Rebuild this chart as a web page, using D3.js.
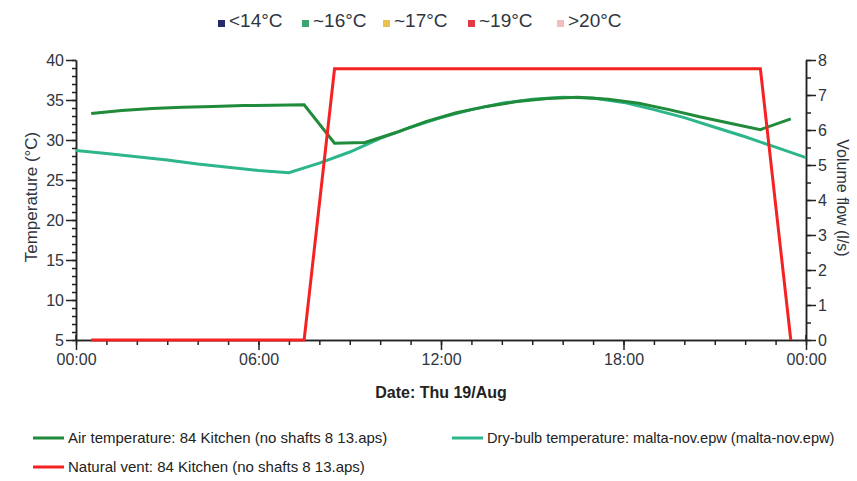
<!DOCTYPE html>
<html>
<head>
<meta charset="utf-8">
<script src="https://cdn.jsdelivr.net/npm/d3@7"></script>
<style>
body { margin: 0; background: #fff; }
svg { font-family: "Liberation Sans", Arial, sans-serif; }
</style>
</head>
<body>
<svg></svg>
<script>
// legend categories at the top
var bandLabels = ["<14°C", "~16°C", "~17°C", "~19°C", ">20°C"]
var bandColors = ["#262a6e", "#3aa56c", "#e8c24a", "#e23a44", "#f5bcbc"]

// hours of the day
var airHours = [0.5,1.5,2.5,3.5,4.5,5.5,6.5,7.5,8.5,9.5,10.5,11.5,12.5,13.5,14.5,15.5,16.5,17.5,18.5,19.5,20.5,21.5,22.5,23.5]
var airTemp = [33.3,33.7,33.95,34.1,34.2,34.3,34.35,34.4,29.6,29.7,30.9,32.3,33.4,34.2,34.8,35.2,35.35,35.1,34.6,33.8,32.9,32.1,31.3,32.65]
var ventFlow = [0,0,0,0,0,0,0,0,7.75,7.75,7.75,7.75,7.75,7.75,7.75,7.75,7.75,7.75,7.75,7.75,7.75,7.75,7.75,0]

var dryHours = [0,1,2,3,4,5,6,7,8,9,10,11,12,13,14,15,16,17,18,19,20,21,22,23,24]
var dryTemp = [28.7,28.3,27.9,27.5,27.0,26.6,26.2,25.9,27.1,28.5,30.2,31.6,32.8,33.8,34.6,35.1,35.35,35.25,34.7,33.8,32.8,31.6,30.4,29.1,27.8]

var xTicks = [0, 6, 12, 18, 24]
var xLabels = ["00:00", "06:00", "12:00", "18:00", "00:00"]

var seriesNames = ["Air temperature: 84 Kitchen (no shafts 8 13.aps)",
                   "Dry-bulb temperature: malta-nov.epw (malta-nov.epw)",
                   "Natural vent: 84 Kitchen (no shafts 8 13.aps)"]

var screen = {width: 857, height: 481}
var svg = d3.select("svg").attr("width", screen.width).attr("height", screen.height)

var xScale = d3.scaleLinear().domain([0, 24]).range([76, 806])
var yScale = d3.scaleLinear().domain([5, 40]).range([340, 60])
var y2Scale = d3.scaleLinear().domain([0, 8]).range([340, 60])

var axisColor = "#222"
var textColor = "#2e3540"

// minor ticks
var minorX = d3.range(0, 25)
svg.append("g").attr("transform", "translate(0,340)")
  .call(d3.axisBottom(xScale).tickValues(minorX).tickSize(5).tickSizeOuter(0).tickFormat(""))
var minorY = d3.range(5, 41)
svg.append("g").attr("transform", "translate(76,0)")
  .call(d3.axisLeft(yScale).tickValues(minorY).tickSize(4).tickSizeOuter(0).tickFormat(""))
var minorY2 = d3.range(0, 8.01, 0.5)
svg.append("g").attr("transform", "translate(806,0)")
  .call(d3.axisRight(y2Scale).tickValues(minorY2).tickSize(5).tickSizeOuter(0).tickFormat(""))

// major ticks
svg.append("g").attr("transform", "translate(0,340)")
  .call(d3.axisBottom(xScale).tickValues(xTicks).tickSize(10).tickSizeOuter(0).tickPadding(4)
    .tickFormat(function(d, i) { return xLabels[i] }))
svg.append("g").attr("transform", "translate(76,0)")
  .call(d3.axisLeft(yScale).tickValues(d3.range(5, 41, 5)).tickSize(10).tickSizeOuter(0).tickPadding(2))
svg.append("g").attr("transform", "translate(806,0)")
  .call(d3.axisRight(y2Scale).tickValues(d3.range(0, 9)).tickSize(10).tickSizeOuter(0).tickPadding(2))

// the 00:00 ticks also cross the plot edge a little
svg.selectAll(".extra").data([0, 24]).enter().append("line")
  .attr("x1", function(d) { return xScale(d) }).attr("x2", function(d) { return xScale(d) })
  .attr("y1", 335).attr("y2", 340).attr("stroke", axisColor).attr("stroke-width", 1.5)

svg.selectAll(".domain").attr("stroke", axisColor).attr("stroke-width", 1.5)
svg.selectAll(".tick line").attr("stroke", axisColor).attr("stroke-width", 1.5)
svg.selectAll(".tick text").attr("fill", textColor).style("font-size", "16px")
  .style("font-family", "'Liberation Sans', Arial, sans-serif")

// axis titles
svg.append("text").attr("transform", "translate(37,197) rotate(-90)")
  .attr("text-anchor", "middle").attr("fill", textColor).style("font-size", "17px")
  .text("Temperature (°C)")
svg.append("text").attr("transform", "translate(837,198) rotate(90)")
  .attr("text-anchor", "middle").attr("fill", textColor).style("font-size", "16px")
  .text("Volume flow (l/s)")
svg.append("text").attr("x", 441).attr("y", 398)
  .attr("text-anchor", "middle").attr("fill", "#222").style("font-size", "16px")
  .style("font-weight", "bold").text("Date: Thu 19/Aug")

// lines
var lineTemp = d3.line().x(function(d) { return xScale(d[0]) }).y(function(d) { return yScale(d[1]) })
var lineFlow = d3.line().x(function(d) { return xScale(d[0]) }).y(function(d) { return y2Scale(d[1]) })

var dryData = dryHours.map(function(h, i) { return [h, dryTemp[i]] })
var airData = airHours.map(function(h, i) { return [h, airTemp[i]] })
var ventData = airHours.map(function(h, i) { return [h, ventFlow[i]] })

var colors = ["#1f8b3b", "#2db68c", "#f52222"]

svg.append("path").datum(dryData).attr("d", lineTemp)
  .attr("fill", "none").attr("stroke", colors[1]).attr("stroke-width", 3)
svg.append("path").datum(airData).attr("d", lineTemp)
  .attr("fill", "none").attr("stroke", colors[0]).attr("stroke-width", 3)
svg.append("path").datum(ventData).attr("d", lineFlow)
  .attr("fill", "none").attr("stroke", colors[2]).attr("stroke-width", 3)

// top legend
var bandX = [218, 302, 383, 468, 557]
var topLeg = svg.selectAll(".band").data(bandLabels).enter().append("g")
  .attr("transform", function(d, i) { return "translate(" + bandX[i] + ",0)" })
topLeg.append("rect").attr("x", 0).attr("y", 20).attr("width", 7).attr("height", 7)
  .attr("fill", function(d, i) { return bandColors[i] })
topLeg.append("text").attr("x", 11).attr("y", 27).attr("fill", textColor)
  .style("font-size", "19px").text(function(d) { return d })

// bottom legend
var legPos = [[33, 438], [452, 438], [33, 467]]
var legSize = [15, 14.6, 15]
var botLeg = svg.selectAll(".series").data(seriesNames).enter().append("g")
  .attr("transform", function(d, i) { return "translate(" + legPos[i][0] + "," + legPos[i][1] + ")" })
botLeg.append("line").attr("x1", 0).attr("x2", 31).attr("y1", 0).attr("y2", 0)
  .attr("stroke", function(d, i) { return colors[i] }).attr("stroke-width", 3)
botLeg.append("text").attr("x", 35).attr("y", 5).attr("fill", "#222")
  .style("font-size", function(d, i) { return legSize[i] + "px" }).text(function(d) { return d })
</script>
</body>
</html>
